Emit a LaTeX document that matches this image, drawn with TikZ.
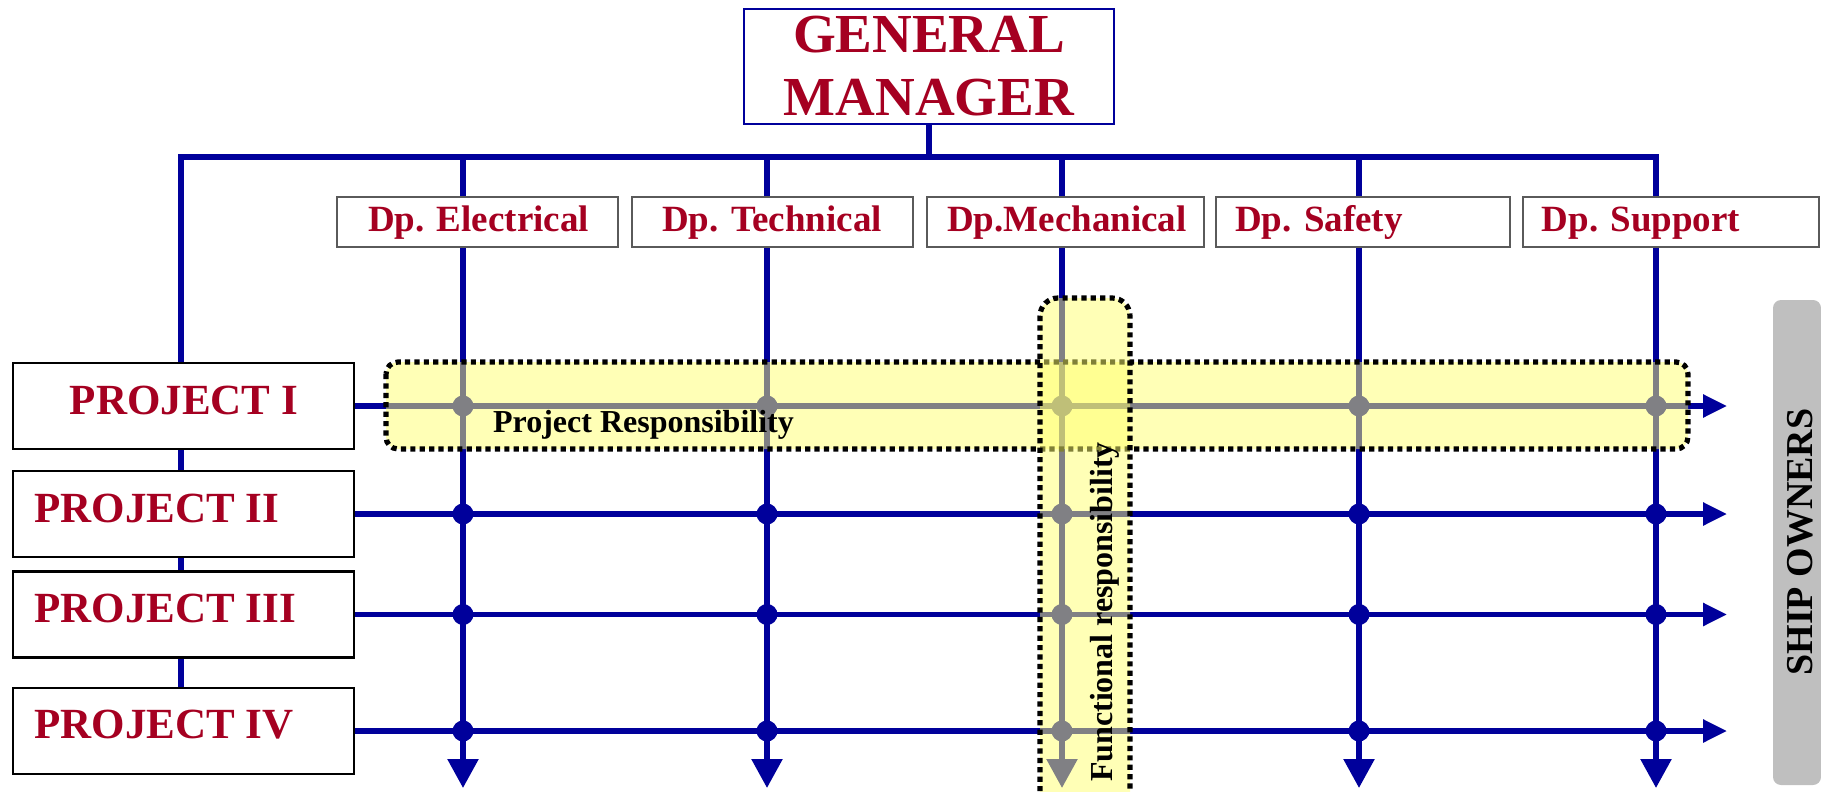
\documentclass[tikz,border=0pt]{standalone}
\usepackage{fontspec}
\setmainfont{Liberation Serif}
\usetikzlibrary{arrows.meta,backgrounds}

\definecolor{titlered}{RGB}{165,0,33}
\definecolor{linkblue}{RGB}{0,0,155}
\definecolor{framegray}{RGB}{90,90,90}
\definecolor{ownergray}{RGB}{191,191,191}
\definecolor{bandyellow}{RGB}{255,255,110}

\begin{document}
\begin{tikzpicture}[x=0.5pt,y=-0.5pt,
  link/.style={draw=linkblue, line width=2.8pt, line cap=rect},
  downarrow/.style={link, -{Triangle[length=14.5pt,width=15pt]}},
  rightarrow/.style={link, -{Triangle[length=12pt,width=11pt]}},
  joint/.style={fill=linkblue},
  gmbox/.style={draw=linkblue, line width=1.1pt, fill=white, text=titlered,
    font=\fontsize{27.5pt}{31.5pt}\selectfont\bfseries, align=center,
    inner sep=0pt, minimum width=185pt, minimum height=57.5pt},
  deptbox/.style={draw=framegray, line width=0.7pt, fill=white,
    inner sep=0pt, minimum height=25pt},
  depttext/.style={text=titlered, font=\fontsize{18.5pt}{22pt}\selectfont\bfseries,
    inner sep=0pt, anchor=base},
  projbox/.style={draw=black, line width=1.1pt, fill=white, inner sep=0pt,
    minimum width=170.5pt, minimum height=43pt},
  projtext/.style={text=titlered, font=\fontsize{21.5pt}{25pt}\selectfont\bfseries,
    inner sep=0pt},
  band/.style={draw=black, line width=2.6pt, dash pattern=on 2.6pt off 2.1pt,
    fill=bandyellow, fill opacity=0.5},
  bandtext/.style={font=\fontsize{16pt}{19pt}\selectfont\bfseries,
    inner sep=0pt, anchor=base},
  shipbox/.style={fill=ownergray, rounded corners=4pt, inner sep=0pt,
    minimum width=24pt, minimum height=242.5pt}
]
\useasboundingbox (0,0) rectangle (1821,792);
\clip (0,0) rectangle (1821,792);

% General manager
\node[gmbox] (gm) at (929,66.5) {GENERAL\\MANAGER};

% Departments
\node[deptbox, minimum width=140.5pt] (el) at (477.5,222) {};
\node[deptbox, minimum width=140.5pt] (te) at (772.5,222) {};
\node[deptbox, minimum width=138.5pt] (me) at (1065.5,222) {};
\node[deptbox, minimum width=147pt]   (sa) at (1363,222) {};
\node[deptbox, minimum width=148pt]   (su) at (1671,222) {};
\node[depttext] (elt) at (478.5,231) {Dp. Electrical};
\node[depttext] (tet) at (772,231)   {Dp. Technical};
\node[depttext] (met) at (1067,231)  {Dp.Mechanical};
\node[depttext] (sat) at (1319,231)  {Dp. Safety};
\node[depttext] (sut) at (1641,231)  {Dp. Support};

% Projects
\node[projbox] (p1) at (183.5,406)   {};
\node[projbox] (p2) at (183.5,514)   {};
\node[projbox] (p3) at (183.5,614.5) {};
\node[projbox] (p4) at (183.5,731)   {};
\node[projtext, anchor=base] (p1t) at (184,414) {PROJECT I};
\node[projtext, anchor=base west] (p2t) at (34,522) {PROJECT II};
\node[projtext, anchor=base west] (p3t) at (34,622) {PROJECT III};
\node[projtext, anchor=base west] (p4t) at (34,738) {PROJECT IV};

% Ship owners
\node[shipbox] (owners) at (1797,542.5) {};
\node[bandtext, rotate=90, font=\fontsize{19pt}{22pt}\selectfont\bfseries]
  (ownerst) at (1812,542) {SHIP OWNERS};

% Reporting lines and matrix
\coordinate (busL) at (181,157);
\coordinate (busR) at (1656,157);
\coordinate (tipcol) at (1727,0);
\foreach \n/\x in {el/463, te/767, me/1062, sa/1359, su/1656} {
  \coordinate (\n top) at (\x,157);
  \coordinate (\n tip) at (\x,788);
}
\begin{pgfonlayer}{background}
  \draw[link] (busL |- p4.north) -- (busL) -- (busR);
  \draw[link] (gm.south) -- (gm.south |- busL);
  \foreach \n in {el,te,me,sa,su}
    \draw[downarrow] (\n top) -- (\n tip);
  \foreach \p in {1,...,4}
    \draw[rightarrow] (p\p.east) -- (p\p.east -| tipcol);
  \foreach \n in {el,te,me,sa,su}
    \foreach \p in {1,...,4}
      \fill[joint] (\n top |- p\p.east) circle[radius=5.25pt];
\end{pgfonlayer}

% Responsibility bands
\draw[band, rounded corners=6pt] (386,362) rectangle (1688,449);
\draw[band, rounded corners=9pt] (1040,298) rectangle (1130,830);
\node[bandtext] (projresp) at (643.5,432) {Project Responsibility};
\node[bandtext, rotate=90] (funcresp) at (1112,612) {Functional responsibility};
\end{tikzpicture}
\end{document}
